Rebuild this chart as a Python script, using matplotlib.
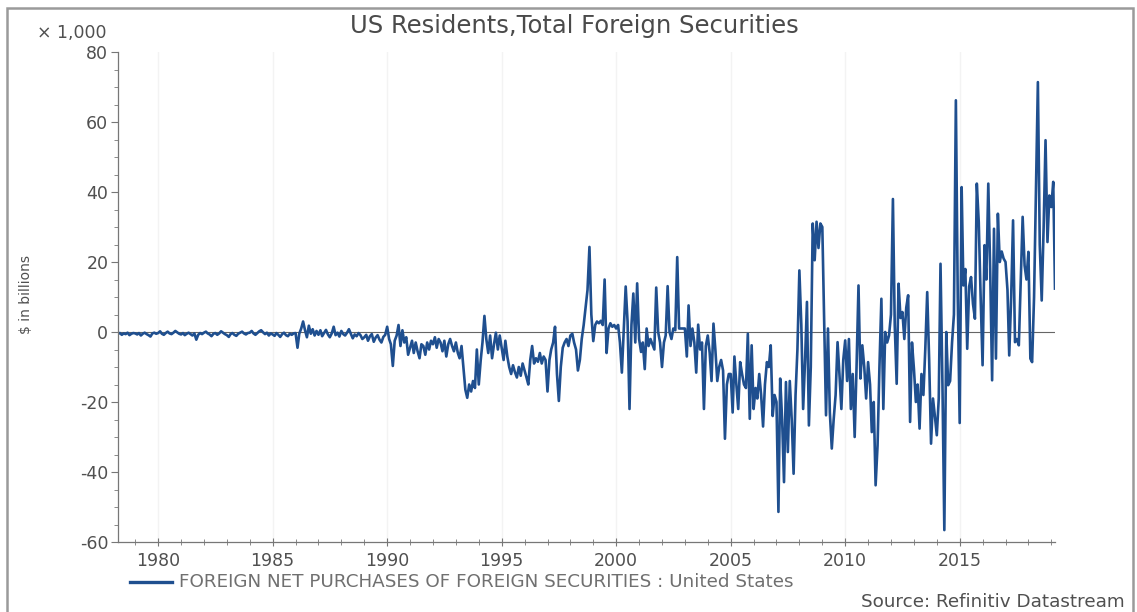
import matplotlib
matplotlib.use("Agg")
import matplotlib.pyplot as plt
import matplotlib.dates as mdates
import matplotlib.patches as patches
import numpy as np
import pandas as pd

# monthly net purchases, $bn, series starts Apr 1978
start_month = "1978-04-01"
y1978 = [-0.5, -0.3, -0.8, -0.4, -0.6, -0.2, -0.9, -0.5, -0.3]
y1979 = [-0.4, -0.7, -0.3, -1.0, -0.5, -0.2, -0.6, -0.9, -1.3, -0.4, -0.2, -0.5]
y1980 = [-0.3, 0.2, -0.5, -0.8, -0.3, 0.1, -0.4, -0.6, -0.2, 0.3, -0.1, -0.5]
y1981 = [-0.7, -0.3, -0.9, -0.5, -0.2, -0.6, -1.0, -0.4, -2.2, -0.8, -0.3, -0.6]
y1982 = [-0.2, 0.1, -0.4, -0.7, -1.2, -0.5, -0.3, -0.8, -0.4, 0.2, -0.2, -0.6]
y1983 = [-0.9, -1.4, -0.6, -0.3, -0.8, -1.1, -0.5, -0.2, 0.1, -0.4, -0.7, -0.3]
y1984 = [-0.2, 0.3, -0.4, -0.8, -0.3, 0.2, 0.5, -0.1, -0.6, -0.2, -1.0, -0.4]
y1985 = [-0.7, -1.1, -0.3, -0.8, -1.4, -0.6, -0.2, -0.9, -1.2, -0.5, -0.8, -0.4]
y1986 = [-0.3, -4.5, -0.5, 1.0, 3.0, 0.5, -1.5, 1.8, -0.5, 0.8, -1.0, 0.3]
y1987 = [-0.8, 0.5, -1.2, -0.3, 0.6, -0.7, -1.5, -0.4, 1.5, -0.9, -0.2, -1.3]
y1988 = [0.3, -0.6, -1.0, -0.2, 0.8, -0.5, -1.8, -0.7, -1.2, -0.3, -0.9, -2.0]
y1989 = [-1.5, -0.8, -2.5, -1.2, -0.6, -2.8, -1.6, -0.9, -2.2, -3.0, -1.4, -0.8]
y1990 = [1.5, -2.0, -3.5, -9.7, -2.5, -1.0, 2.0, -4.0, 0.5, -3.0, -1.5, -6.5]
y1991 = [-4.5, -2.5, -6.0, -3.0, -5.5, -7.5, -3.5, -4.0, -6.5, -3.0, -5.0, -2.5]
y1992 = [-3.5, -1.5, -4.5, -2.0, -3.0, -5.5, -2.5, -7.0, -3.5, -2.0, -4.0, -5.5]
y1993 = [-3.0, -6.0, -7.5, -4.0, -10.0, -16.5, -18.8, -15.0, -17.0, -14.0, -16.0, -5.0]
y1994 = [-15.0, -8.0, -3.0, 4.6, -2.0, -6.0, -1.0, -7.5, -3.5, -0.2, -5.0, -1.0]
y1995 = [-4.5, -8.0, -2.5, -7.0, -10.0, -12.0, -9.5, -11.5, -13.0, -10.0, -12.5, -9.0]
y1996 = [-11.0, -13.0, -15.0, -8.0, -4.0, -9.0, -7.5, -8.5, -6.0, -9.0, -7.0, -8.0]
y1997 = [-17.0, -8.0, -5.0, -3.0, 1.5, -12.0, -19.7, -10.0, -4.5, -3.0, -2.0, -4.0]
y1998 = [-1.0, -0.5, -3.0, -5.0, -11.0, -8.0, -2.0, 2.0, 7.0, 12.0, 24.3, 5.0]
y1999 = [-2.6, 2.0, 3.0, 2.5, 3.2, 2.0, 15.0, -6.0, 1.0, 2.5, 1.5, 2.0]
y2000 = [1.0, 2.0, -3.0, -11.6, 0.5, 13.0, 3.0, -22.0, 2.0, 11.0, -3.0, 13.9]
y2001 = [-2.0, -5.7, -3.0, -10.6, 1.0, -4.0, -2.0, -3.5, -5.0, 12.7, 0.0, -3.0]
y2002 = [-10.0, -3.0, -1.0, 13.1, 0.0, -2.0, 1.0, 0.5, 21.4, 1.0, 1.0, 1.0]
y2003 = [1.0, -7.0, 7.6, -4.0, 1.0, -3.0, -11.6, 2.1, -5.0, -3.0, -22.0, -4.0]
y2004 = [-1.0, -6.0, -14.0, 2.4, -5.0, -14.0, -10.0, -8.0, -11.0, -30.5, -15.0, -12.0]
y2005 = [-12.0, -23.0, -7.0, -15.0, -22.0, -8.6, -12.0, -15.0, -16.0, -0.5, -24.8, -3.8]
y2006 = [-22.0, -16.0, -19.0, -12.0, -18.0, -27.0, -15.0, -8.6, -10.0, -3.8, -24.0, -18.0]
y2007 = [-20.0, -51.4, -13.3, -25.0, -42.9, -14.3, -34.3, -14.0, -25.0, -40.5, -18.0, -5.0]
y2008 = [17.6, 2.0, -22.0, -8.0, 8.6, -26.7, -10.0, 31.0, 20.5, 31.5, 24.0, 31.0]
y2009 = [30.0, 0.95, -23.8, 1.0, -23.0, -33.3, -25.0, -18.0, -2.9, -12.0, -22.0, -8.0]
y2010 = [-2.4, -14.0, -2.0, -22.0, -12.0, -30.0, -10.0, 13.3, -13.3, -3.8, -10.0, -19.0]
y2011 = [-8.6, -15.0, -28.6, -20.0, -43.8, -32.4, -10.0, 9.5, -22.0, 0.0, -3.0, -1.0]
y2012 = [5.0, 38.0, 2.0, -14.8, 13.8, 4.0, 5.7, -2.0, 7.0, 10.5, -25.7, -3.0]
y2013 = [-10.5, -20.0, -15.0, -27.6, -12.0, -18.0, -5.0, 11.4, -8.0, -31.9, -19.0, -24.0]
y2014 = [-29.5, -19.0, 19.5, -15.0, -56.6, 0.0, -15.2, -14.0, -3.0, 5.0, 66.2, 10.0]
y2015 = [-26.0, 41.4, 13.3, 18.0, -4.8, 13.0, 15.7, 8.0, 3.8, 42.4, 31.4, 10.0]
y2016 = [-9.5, 24.8, 15.0, 42.4, 18.0, -13.8, 29.5, -7.6, 33.8, 20.0, 23.0, 21.0]
y2017 = [20.0, 12.0, -6.7, 10.0, 31.9, -2.9, -2.0, -3.8, 15.0, 32.9, 19.0, 15.0]
y2018 = [22.9, -7.6, -8.6, 10.0, 40.0, 71.4, 25.0, 9.0, 30.0, 54.8, 25.7, 39.0]
y2019 = [35.7, 42.9, 12.4]

values = (y1978 + y1979 + y1980 + y1981 + y1982 + y1983 + y1984 + y1985 + y1986
          + y1987 + y1988 + y1989 + y1990 + y1991 + y1992 + y1993 + y1994 + y1995
          + y1996 + y1997 + y1998 + y1999 + y2000 + y2001 + y2002 + y2003 + y2004
          + y2005 + y2006 + y2007 + y2008 + y2009 + y2010 + y2011 + y2012 + y2013
          + y2014 + y2015 + y2016 + y2017 + y2018 + y2019)
dates = pd.date_range(start_month, periods=len(values), freq="MS")

title = "US Residents,Total Foreign Securities"
series_name = "FOREIGN NET PURCHASES OF FOREIGN SECURITIES : United States"
source = "Source: Refinitiv Datastream"
y_ticks = [-60, -40, -20, 0, 20, 40, 60, 80]

W, H = 1137, 612
line_color = "#1f4f8f"
txt_color = "#505050"

plt.rcParams["axes.unicode_minus"] = False  # plain hyphen like the original

fig = plt.figure(figsize=(W / 100, H / 100), dpi=100)
ax = fig.add_axes([118 / W, 1 - 542 / H, (1055 - 118) / W, (542 - 52) / H])

# faint vertical grid at the 5 year marks
for yr in range(1980, 2020, 5):
    ax.axvline(pd.Timestamp(f"{yr}-01-01"), color="#f3f3f3", lw=1, zorder=0)

ax.axhline(0, color="#666666", lw=0.8, zorder=1)
ax.plot(dates, values, color=line_color, lw=1.9, zorder=2)

ax.set_xlim(pd.Timestamp(start_month), dates[-1])
ax.set_ylim(-60, 80)
ax.set_yticks(y_ticks)
ax.yaxis.set_minor_locator(matplotlib.ticker.MultipleLocator(5))
ax.xaxis.set_major_locator(mdates.YearLocator(5))
ax.xaxis.set_minor_locator(mdates.YearLocator(1))
ax.xaxis.set_major_formatter(mdates.DateFormatter("%Y"))

for s in ["top", "right"]:
    ax.spines[s].set_visible(False)
for s in ["left", "bottom"]:
    ax.spines[s].set_color("#777777")
    ax.spines[s].set_linewidth(0.9)

ax.tick_params(axis="y", which="major", direction="out", length=5, color="#777777",
               labelsize=12.5, labelcolor=txt_color, pad=2)
ax.tick_params(axis="y", which="minor", direction="out", length=3, color="#777777")
ax.tick_params(axis="x", which="major", direction="inout", length=6, color="#777777",
               labelsize=12.5, labelcolor=txt_color, pad=4)
ax.tick_params(axis="x", which="minor", direction="inout", length=4, color="#777777")

# texts around the plot
fig.text(574 / W, 1 - 26 / H, title, ha="center", va="center", fontsize=17.5, color="#4a4a4a")
fig.text(37 / W, 1 - 33 / H, "\u00d7 1,000", ha="left", va="center", fontsize=12.5, color=txt_color)
fig.text(26 / W, 1 - 294 / H, "$ in billions", ha="center", va="center", rotation=90,
         fontsize=10, color=txt_color)
fig.add_artist(plt.Line2D([130 / W, 172 / W], [1 - 582 / H, 1 - 582 / H], color=line_color, lw=2.4))
fig.text(179 / W, 1 - 582 / H, series_name, ha="left", va="center", fontsize=13.2, color="#707070")
fig.text(1125 / W, 1 - 602 / H, source, ha="right", va="center", fontsize=13.2, color=txt_color)

# grey frame of the screenshot
frame = patches.Rectangle((7 / W, -0.05), (1133 - 7) / W, 1.05 - 8 / H, transform=fig.transFigure,
                          fill=False, edgecolor="#9a9a9a", lw=1.8)
fig.add_artist(frame)

fig.savefig("out.png", dpi=100, facecolor="white")
